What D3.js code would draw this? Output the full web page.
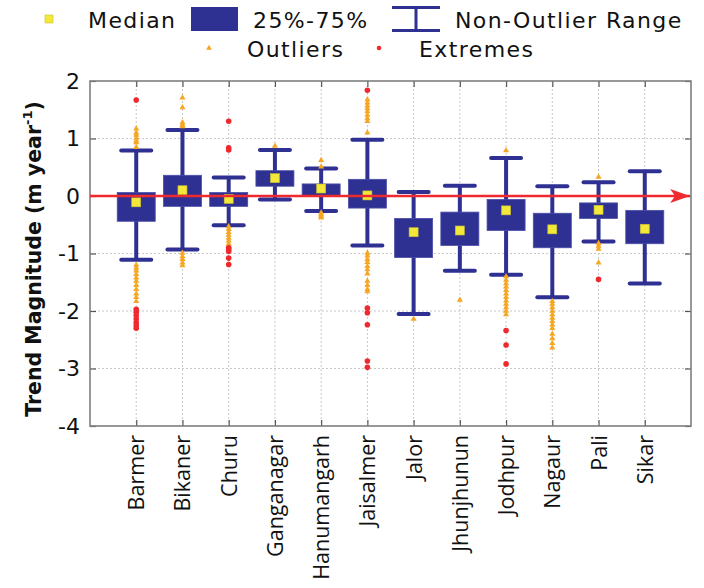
<!DOCTYPE html>
<html>
<head>
<meta charset="utf-8">
<script src="https://cdn.jsdelivr.net/npm/d3@7"></script>
<style>
  html, body { margin: 0; padding: 0; background: #fff; }
  svg { display: block; font-family: "DejaVu Sans", Verdana, sans-serif; }
</style>
</head>
<body>
<svg id="chart" width="704" height="588"></svg>
<script>
const categories = ["Barmer","Bikaner","Churu","Ganganagar","Hanumangarh","Jaisalmer","Jalor","Jhunjhunun","Jodhpur","Nagaur","Pali","Sikar"];
const medians   = [-0.11, 0.10, -0.05, 0.31, 0.13, 0.01, -0.63, -0.60, -0.25, -0.58, -0.24, -0.57];
const q1        = [-0.44, -0.18, -0.18, 0.17, 0.01, -0.21, -1.07, -0.86, -0.60, -0.90, -0.39, -0.83];
const q3        = [0.06, 0.36, 0.06, 0.44, 0.21, 0.29, -0.39, -0.28, -0.06, -0.30, -0.12, -0.25];
const whiskerLo = [-1.11, -0.93, -0.51, -0.06, -0.26, -0.86, -2.05, -1.30, -1.37, -1.76, -0.79, -1.52];
const whiskerHi = [0.79, 1.15, 0.32, 0.80, 0.48, 0.98, 0.07, 0.18, 0.66, 0.17, 0.24, 0.43];
const outliers = [
  [1.17, 1.10, 1.06, 1.01, 0.96, 0.93, 0.85, -1.20, -1.25, -1.30, -1.36, -1.42, -1.48, -1.55, -1.62, -1.70, -1.76, -1.83],
  [1.71, 1.54, 1.28, 1.24, 1.21, -0.99, -1.05, -1.10, -1.16, -1.21],
  [-0.53, -0.58, -0.63, -0.68, -0.73, -0.78, -0.83, -0.87],
  [0.87],
  [0.62, 0.51, -0.29, -0.32, -0.35, -0.38],
  [1.68, 1.62, 1.57, 1.52, 1.47, 1.41, 1.35, 1.30, 1.10, -0.99, -1.04, -1.10, -1.15, -1.22, -1.28, -1.35, -1.48, -1.55, -1.62, -1.66],
  [-2.14],
  [-1.81],
  [0.79, -1.40, -1.46, -1.52, -1.58, -1.64, -1.70, -1.76, -1.82, -1.88, -1.94, -2.00, -2.06],
  [-1.83, -1.88, -1.94, -2.00, -2.06, -2.12, -2.18, -2.24, -2.30, -2.40, -2.48, -2.56, -2.64],
  [0.33, -0.82, -0.87, -0.92, -1.16],
  []
];
const extremes = [
  [1.67, -1.97, -2.02, -2.08, -2.14, -2.20, -2.25, -2.30],
  [],
  [1.30, 0.84, 0.80, -0.90, -0.93, -0.96, -1.08, -1.19],
  [],
  [],
  [1.84, -1.95, -2.03, -2.24, -2.87, -2.98],
  [],
  [],
  [-2.34, -2.59, -2.92],
  [],
  [-1.45],
  []
];
const yTicks = [-4, -3, -2, -1, 0, 1, 2];

const BLUE = "#2e3192", YEL = "#f3e83a", ORANGE = "#f5a623", RED = "#ee2a2f", GRID = "#c8c8c8", FRAME = "#7f7f7f";

const svg = d3.select("#chart");
const L = 90, R = 691, T = 81, B = 426;
const x = d3.scalePoint().domain(categories).range([L, R]).padding(1);
const y = d3.scaleLinear().domain([-4, 2]).range([B, T]);

// grid
const g = svg.append("g");
g.selectAll("line.hg").data(yTicks.slice(1, -1)).join("line")
  .attr("x1", L).attr("x2", R).attr("y1", d => y(d)).attr("y2", d => y(d))
  .attr("stroke", GRID).attr("stroke-width", 1).attr("stroke-dasharray", "2,2");
g.selectAll("line.vg").data(categories).join("line")
  .attr("x1", d => x(d)).attr("x2", d => x(d)).attr("y1", T).attr("y2", B)
  .attr("stroke", GRID).attr("stroke-width", 1).attr("stroke-dasharray", "2,2");

// axes
const ax = svg.append("g");
const leftAxis = ax.append("g").attr("transform", `translate(${L},0)`)
  .call(d3.axisLeft(y).tickValues(yTicks).tickFormat(d => String(d)).tickSize(-6).tickPadding(10));
const rightAxis = ax.append("g").attr("transform", `translate(${R},0)`)
  .call(d3.axisRight(y).tickValues(yTicks).tickFormat("").tickSize(-6));
const bottomAxis = ax.append("g").attr("transform", `translate(0,${B})`)
  .call(d3.axisBottom(x).tickSize(-6));
const topAxis = ax.append("g").attr("transform", `translate(0,${T})`)
  .call(d3.axisTop(x).tickFormat("").tickSize(-6));
[leftAxis, rightAxis, bottomAxis, topAxis].forEach(a => {
  a.select(".domain").remove();
  a.selectAll(".tick line").attr("stroke", "#555").attr("stroke-width", 1.2);
});
leftAxis.selectAll("text").attr("font-size", 22).attr("fill", "#111")
  .attr("font-family", "DejaVu Sans, Verdana, sans-serif");
bottomAxis.selectAll("text")
  .attr("font-size", 21.5).attr("fill", "#111")
  .attr("font-family", "'Open Sans', 'Noto Sans', sans-serif")
  .attr("text-anchor", "end").attr("dy", "0.35em").attr("dx", 0)
  .attr("transform", "rotate(-90)")
  .attr("x", -9).attr("y", 0);

// frame
svg.append("rect").attr("x", L).attr("y", T).attr("width", R - L).attr("height", B - T)
  .attr("fill", "none").attr("stroke", FRAME).attr("stroke-width", 1.6);

// arrow marker for the zero line
const defs = svg.append("defs");
defs.append("marker").attr("id", "arr").attr("viewBox", "0 0 20 14")
  .attr("refX", 20).attr("refY", 7).attr("markerWidth", 8.3).attr("markerHeight", 5.8)
  .attr("orient", "auto").attr("markerUnits", "strokeWidth")
  .append("path").attr("d", "M0,0 L20,7 L0,14 L5,7 Z").attr("fill", RED);

// boxes
const data = categories.map((c, i) => ({c, med: medians[i], lo: q1[i], hi: q3[i], wl: whiskerLo[i], wh: whiskerHi[i], out: outliers[i], ext: extremes[i]}));
const boxW = 38, capW = 30;
const bg = svg.append("g");
const grp = bg.selectAll("g.box").data(data).join("g").attr("class", "box");
grp.append("line").attr("x1", d => x(d.c)).attr("x2", d => x(d.c))
  .attr("y1", d => y(d.wh)).attr("y2", d => y(d.wl)).attr("stroke", BLUE).attr("stroke-width", 4);
grp.append("line").attr("x1", d => x(d.c) - capW / 2).attr("x2", d => x(d.c) + capW / 2)
  .attr("y1", d => y(d.wh)).attr("y2", d => y(d.wh)).attr("stroke", BLUE).attr("stroke-width", 4).attr("stroke-linecap", "round");
grp.append("line").attr("x1", d => x(d.c) - capW / 2).attr("x2", d => x(d.c) + capW / 2)
  .attr("y1", d => y(d.wl)).attr("y2", d => y(d.wl)).attr("stroke", BLUE).attr("stroke-width", 4).attr("stroke-linecap", "round");
grp.append("rect").attr("x", d => x(d.c) - boxW / 2).attr("width", boxW)
  .attr("y", d => y(d.hi)).attr("height", d => y(d.lo) - y(d.hi))
  .attr("fill", BLUE).attr("stroke", "#4a4ea8").attr("stroke-width", 0.8);

// red zero line drawn over the boxes
svg.append("line").attr("x1", L).attr("x2", R - 1).attr("y1", y(0)).attr("y2", y(0))
  .attr("stroke", RED).attr("stroke-width", 2.4).attr("marker-end", "url(#arr)");

// medians
grp.append("rect").attr("x", d => x(d.c) - 4.5).attr("y", d => y(d.med) - 4.5)
  .attr("width", 9).attr("height", 9).attr("fill", YEL).attr("stroke", "#c9c030").attr("stroke-width", 0.6);

// outliers (triangles) and extremes (dots)
const tri = d3.symbol().type(d3.symbolTriangle).size(16);
grp.each(function(d) {
  const s = d3.select(this);
  s.selectAll("path.o").data(d.out).join("path").attr("class", "o")
    .attr("d", tri).attr("transform", v => `translate(${x(d.c)},${y(v)})`).attr("fill", ORANGE);
  s.selectAll("circle.e").data(d.ext).join("circle").attr("class", "e")
    .attr("cx", x(d.c)).attr("cy", v => y(v)).attr("r", 2.8).attr("fill", RED);
});

// y title
const yt = svg.append("text").attr("transform", "translate(41,259) rotate(-90)")
  .attr("text-anchor", "middle").attr("font-size", 20.5).attr("font-weight", "bold").attr("fill", "#111");
yt.append("tspan").text("Trend Magnitude (m year");
yt.append("tspan").attr("font-size", 13).attr("dy", -9).text("-1");
yt.append("tspan").attr("dy", 9).text(")");

// legend
const lg = svg.append("g").attr("font-size", 22).attr("letter-spacing", 1.4).attr("fill", "#111");
lg.append("rect").attr("x", 45).attr("y", 15).attr("width", 8).attr("height", 8).attr("fill", YEL).attr("stroke", "#c9c030").attr("stroke-width", 0.6);
lg.append("text").attr("x", 88).attr("y", 28).text("Median");
lg.append("rect").attr("x", 191).attr("y", 7).attr("width", 47).attr("height", 24).attr("fill", BLUE);
lg.append("text").attr("x", 253).attr("y", 28).text("25%-75%");
lg.append("line").attr("x1", 392).attr("x2", 440).attr("y1", 7.5).attr("y2", 7.5).attr("stroke", BLUE).attr("stroke-width", 3);
lg.append("line").attr("x1", 392).attr("x2", 440).attr("y1", 30.5).attr("y2", 30.5).attr("stroke", BLUE).attr("stroke-width", 3);
lg.append("line").attr("x1", 416).attr("x2", 416).attr("y1", 7.5).attr("y2", 30.5).attr("stroke", BLUE).attr("stroke-width", 3);
lg.append("text").attr("x", 455).attr("y", 28).text("Non-Outlier Range");
lg.append("path").attr("d", d3.symbol().type(d3.symbolTriangle).size(14)).attr("transform", "translate(209,48)").attr("fill", ORANGE);
lg.append("text").attr("x", 247).attr("y", 57).text("Outliers");
lg.append("circle").attr("cx", 379).attr("cy", 48).attr("r", 2.3).attr("fill", RED);
lg.append("text").attr("x", 419).attr("y", 57).text("Extremes");
</script>
</body>
</html>
